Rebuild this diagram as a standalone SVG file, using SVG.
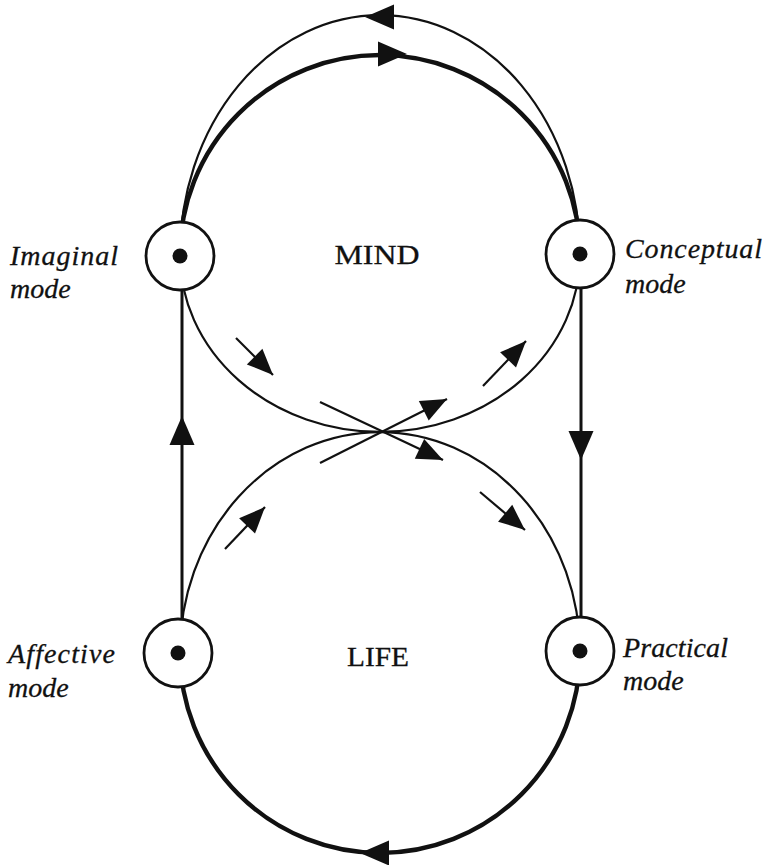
<svg xmlns="http://www.w3.org/2000/svg" xmlns:xlink="http://www.w3.org/1999/xlink" width="772" height="865" viewBox="0 0 772 865">
<style>
.bg{fill:#fff}
.thin{fill:none;stroke:#111;stroke-width:2.2}
.mid{fill:none;stroke:#111;stroke-width:3}
.thick{fill:none;stroke:#111;stroke-width:4.4}
.node{fill:#fff;stroke:#111;stroke-width:2.8}
.dot{fill:#111}
.head{fill:#111}
.lbl{font-family:"Liberation Serif","Times New Roman",serif;font-style:italic;font-size:28px;fill:#111;stroke:#111;stroke-width:0.3}
.ttl{font-family:"Liberation Serif","Times New Roman",serif;font-size:28px;fill:#111;text-anchor:middle;stroke:#111;stroke-width:0.3}
</style>
<defs>
<marker id="arr" markerUnits="userSpaceOnUse" markerWidth="30" markerHeight="26" viewBox="-28 -13 30 26" refX="0" refY="0" orient="auto">
<path d="M0,0 L-26,-11 L-26,11 Z" fill="#111"/>
</marker>
<path id="ah" d="M0,0 L-29,-12.5 L-29,12.5 Z"/>
</defs>
<rect class="bg" x="0" y="0" width="772" height="865"/>
<g id="connectors">
<path class="thin" d="M180,255 A200,240 0 0 1 580,255"/>
<path class="thick" d="M180,255 A200,200 0 0 1 580,255"/>
<path class="thick" d="M180,653 A200,200 0 0 0 580,653"/>
<path class="thin" d="M180,255 A200,177 0 0 0 580,255"/>
<path class="thin" d="M180,653 A200,221 0 0 1 580,653"/>
<line class="mid" x1="182" y1="290" x2="182" y2="620"/>
<line class="mid" x1="581" y1="288" x2="581" y2="618"/>
<use xlink:href="#ah" class="head" transform="translate(365,17) rotate(180)"/>
<use xlink:href="#ah" class="head" transform="translate(407,54)"/>
<use xlink:href="#ah" class="head" transform="translate(360,853) rotate(180)"/>
<use xlink:href="#ah" class="head" transform="translate(182,416) rotate(-90)"/>
<use xlink:href="#ah" class="head" transform="translate(581,460) rotate(90)"/>
<line class="thin" x1="236" y1="338" x2="273" y2="375" marker-end="url(#arr)"/>
<line class="thin" x1="483" y1="386" x2="526" y2="341" marker-end="url(#arr)"/>
<line class="thin" x1="320" y1="402" x2="443" y2="460" marker-end="url(#arr)"/>
<line class="thin" x1="320" y1="463" x2="447" y2="399" marker-end="url(#arr)"/>
<line class="thin" x1="225" y1="549" x2="265" y2="507" marker-end="url(#arr)"/>
<line class="thin" x1="480" y1="492" x2="525" y2="530" marker-end="url(#arr)"/>
</g>
<g id="imaginal">
<circle class="node" cx="180" cy="256" r="34"/>
<circle class="dot" cx="180" cy="256" r="7.5"/>
<text class="lbl" x="10" y="265" textLength="108">Imaginal</text>
<text class="lbl" x="10" y="298">mode</text>
</g>
<g id="conceptual">
<circle class="node" cx="580" cy="254" r="34"/>
<circle class="dot" cx="580" cy="254" r="7.5"/>
<text class="lbl" x="625" y="258" textLength="137">Conceptual</text>
<text class="lbl" x="625" y="293">mode</text>
</g>
<g id="affective">
<circle class="node" cx="178" cy="653" r="34"/>
<circle class="dot" cx="178" cy="653" r="7.5"/>
<text class="lbl" x="8" y="663" textLength="107">Affective</text>
<text class="lbl" x="8" y="697">mode</text>
</g>
<g id="practical">
<circle class="node" cx="580" cy="651" r="34"/>
<circle class="dot" cx="580" cy="651" r="7.5"/>
<text class="lbl" x="623" y="657" textLength="105">Practical</text>
<text class="lbl" x="623" y="690">mode</text>
</g>
<g id="mind">
<text class="ttl" x="377" y="264" textLength="85" lengthAdjust="spacingAndGlyphs">MIND</text>
</g>
<g id="life">
<text class="ttl" x="378" y="666" textLength="62" lengthAdjust="spacingAndGlyphs">LIFE</text>
</g>
</svg>
